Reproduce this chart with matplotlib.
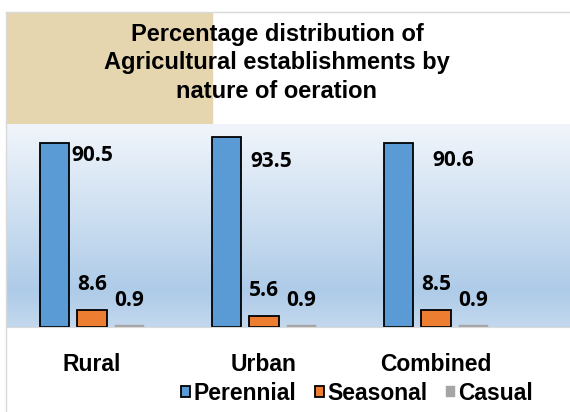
import numpy as np
import matplotlib
matplotlib.use("Agg")
import matplotlib.pyplot as plt
from matplotlib.colors import LinearSegmentedColormap
from matplotlib.patches import Rectangle
from matplotlib.lines import Line2D

# -----------------------------
# Data
# -----------------------------
categories = ["Rural", "Urban", "Combined"]
series_names = ["Perennial", "Seasonal", "Casual"]
perennial = [90.5, 93.5, 90.6]
seasonal = [8.6, 5.6, 8.5]
casual = [0.9, 0.9, 0.9]
values = [perennial, seasonal, casual]

colors = ["#5b9bd5", "#ed7d31", "#a5a5a5"]
edges = ["black", "black", "#a5a5a5"]
edge_widths = [1.3, 1.3, 0.3]

W, H = 570, 412
fig = plt.figure(figsize=(W / 100, H / 100), dpi=100)
fig.patch.set_facecolor("white")

title_font = "Liberation Sans"
label_font = "Open Sans"

# beige title block + thin borders
fig.add_artist(Rectangle((7 / W, 1 - 124 / H), 205 / W, 111 / H,
                         transform=fig.transFigure, color="#e6d6b0", zorder=0))
fig.add_artist(Line2D([6 / W, 6 / W], [0, 1 - 12 / H], transform=fig.transFigure,
                      color="#d9d9d9", lw=1))
fig.add_artist(Line2D([6 / W, 1], [1 - 12 / H, 1 - 12 / H], transform=fig.transFigure,
                      color="#d9d9d9", lw=1))

# -----------------------------
# Plot area
# -----------------------------
ax = fig.add_axes([7 / W, 85 / H, 563 / W, 203 / H])
x0 = -85 / 172
x1 = x0 + 563 / 172
ax.set_xlim(x0, x1)
ax.set_ylim(0, 100)

grad = LinearSegmentedColormap.from_list(
    "bg", [(0.0, "#c3d8ee"), (0.18, "#aecbe8"), (0.55, "#cddff1"), (1.0, "#f1f5fb")])
ax.imshow(np.linspace(0, 1, 256).reshape(-1, 1), cmap=grad, aspect="auto",
          extent=[x0, x1, 0, 100], origin="lower", zorder=0)

x = np.arange(len(categories))
width = 0.174
step = 0.218
for i, vals in enumerate(values):
    ax.bar(x + (i - 1) * step, vals, width, color=colors[i], edgecolor=edges[i],
           linewidth=edge_widths[i], zorder=2, label=series_names[i])

# value labels: perennial labels were moved by hand in the original
per_offsets = [(2, -12), (9, -24), (19, -17)]
for j, v in enumerate(perennial):
    ax.annotate(f"{v}", (x[j] - step + width / 2, v), xytext=per_offsets[j],
                textcoords="offset pixels", ha="left", va="center",
                fontsize=15, fontweight="bold", family=label_font, zorder=3)
for i, vals in enumerate([seasonal, casual]):
    for j, v in enumerate(vals):
        ax.annotate(f"{v}", (x[j] + i * step, v), xytext=(0, 25),
                    textcoords="offset pixels", ha="center", va="center",
                    fontsize=15, fontweight="bold", family=label_font, zorder=3)

ax.set_xticks(x)
ax.set_xticklabels(categories, fontsize=16.5, fontweight="bold", family=title_font)
ax.tick_params(axis="x", length=0, pad=19)
ax.set_yticks([])
for s in ["top", "left", "right"]:
    ax.spines[s].set_visible(False)
ax.spines["bottom"].set_color("#d9d9d9")

# -----------------------------
# Title and legend
# -----------------------------
fig.text(277 / W, 1 - 63 / H,
         "Percentage distribution of\nAgricultural establishments by\nnature of oeration",
         ha="center", va="center", fontsize=17, fontweight="bold",
         family=title_font, linespacing=1.32)

fig.legend(loc="center", bbox_to_anchor=(357 / W, 1 - 393 / H), ncol=3,
           frameon=False, handlelength=0.4, handleheight=0.4, handletextpad=0.15,
           columnspacing=0.8, borderaxespad=0,
           prop={"family": title_font, "weight": "bold", "size": 16.5})

plt.savefig("out.png", dpi=100)
